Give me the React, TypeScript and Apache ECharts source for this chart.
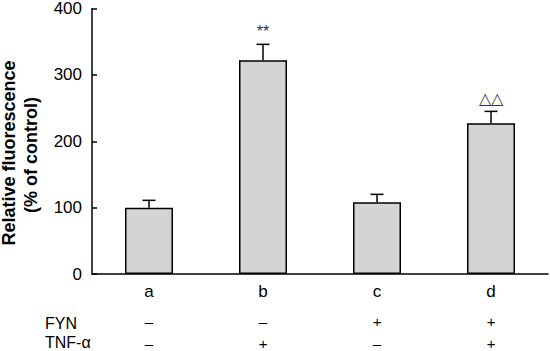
import React, { useEffect, useRef } from "react";
import * as echarts from "echarts";

const categories = ["a", "b", "c", "d"];
const values = [100, 322, 108, 227];
const errorTops = [111, 346, 120, 245];
const sigMarks = ["", "**", "", "△△"];
const fynSigns = ["–", "–", "+", "+"];
const tnfSigns = ["–", "+", "–", "+"];
const yTicks = [0, 100, 200, 300, 400];

const FONT = "'Liberation Sans', Arial, sans-serif";

export default function App() {
  const ref = useRef<HTMLDivElement>(null);
  useEffect(() => {
    document.body.style.margin = "0";
    const chart = echarts.init(ref.current!, undefined, { renderer: "svg" });
    const sideAxis = (data: string[], offset: number) => ({
      type: "category",
      data,
      position: "bottom",
      offset,
      axisLine: { show: false },
      axisTick: { show: false },
      axisLabel: { fontSize: 15, color: "#000", fontFamily: FONT, margin: 8 },
    });
    chart.setOption({
      animation: false,
      grid: { left: 92, right: 2, top: 6, bottom: 76 },
      xAxis: [
        {
          type: "category",
          data: categories,
          axisLine: { lineStyle: { color: "#000", width: 1.5 } },
          axisTick: { inside: true, length: 5, lineStyle: { color: "#000", width: 1.5 } },
          axisLabel: { fontSize: 17, color: "#000", fontFamily: FONT, margin: 9 },
        },
        sideAxis(fynSigns, 32),
        sideAxis(tnfSigns, 54),
      ],
      yAxis: {
        type: "value",
        min: yTicks[0],
        max: yTicks[yTicks.length - 1],
        interval: 100,
        axisLine: { show: true, lineStyle: { color: "#000", width: 1.5 } },
        axisTick: { show: true, inside: true, length: 5, lineStyle: { color: "#000", width: 1.5 } },
        axisLabel: { fontSize: 17, color: "#000", fontFamily: FONT, margin: 10 },
        splitLine: { show: false },
      },
      graphic: [
        {
          type: "text",
          x: 9,
          y: 153,
          rotation: Math.PI / 2,
          style: {
            text: "Relative fluorescence",
            fontSize: 18,
            fontWeight: "bold",
            fontFamily: FONT,
            fill: "#000",
            textAlign: "center",
            textVerticalAlign: "middle",
          },
        },
        {
          type: "text",
          x: 31,
          y: 155,
          rotation: Math.PI / 2,
          style: {
            text: "(% of control)",
            fontSize: 18,
            fontWeight: "bold",
            fontFamily: FONT,
            fill: "#000",
            textAlign: "center",
            textVerticalAlign: "middle",
          },
        },
        {
          type: "text",
          x: 45,
          y: 323,
          style: { text: "FYN", fontSize: 16, fontFamily: FONT, fill: "#000", textAlign: "left", textVerticalAlign: "middle" },
        },
        {
          type: "text",
          x: 45,
          y: 342,
          style: { text: "TNF-α", fontSize: 16, fontFamily: FONT, fill: "#000", textAlign: "left", textVerticalAlign: "middle" },
        },
      ],
      series: [
        {
          type: "bar",
          data: values,
          barWidth: 48,
          itemStyle: { color: "#d4d4d4", borderColor: "#000", borderWidth: 1.5 },
          z: 2,
        },
        {
          type: "custom",
          data: categories.map((c, i) => [i, values[i], errorTops[i]]),
          z: 1,
          renderItem: (params: any, api: any) => {
            const i = api.value(0);
            const base = api.coord([i, api.value(1)]);
            const top = api.coord([i, api.value(2)]);
            const cap = 6.5;
            const mark = sigMarks[i];
            const children: any[] = [
              { type: "line", shape: { x1: top[0], y1: base[1], x2: top[0], y2: top[1] }, style: { stroke: "#000", lineWidth: 1.5 } },
              { type: "line", shape: { x1: top[0] - cap, y1: top[1], x2: top[0] + cap, y2: top[1] }, style: { stroke: "#000", lineWidth: 1.5 } },
            ];
            if (mark) {
              children.push({
                type: "text",
                x: top[0],
                y: top[1] - 13,
                style: {
                  text: mark,
                  fontSize: 16,
                  fontFamily: FONT,
                  fill: "#333",
                  textAlign: "center",
                  textVerticalAlign: "middle",
                },
              });
            }
            return { type: "group", children };
          },
        },
      ],
    });
    return () => chart.dispose();
  }, []);
  return <div ref={ref} style={{ width: 550, height: 351 }} />;
}
